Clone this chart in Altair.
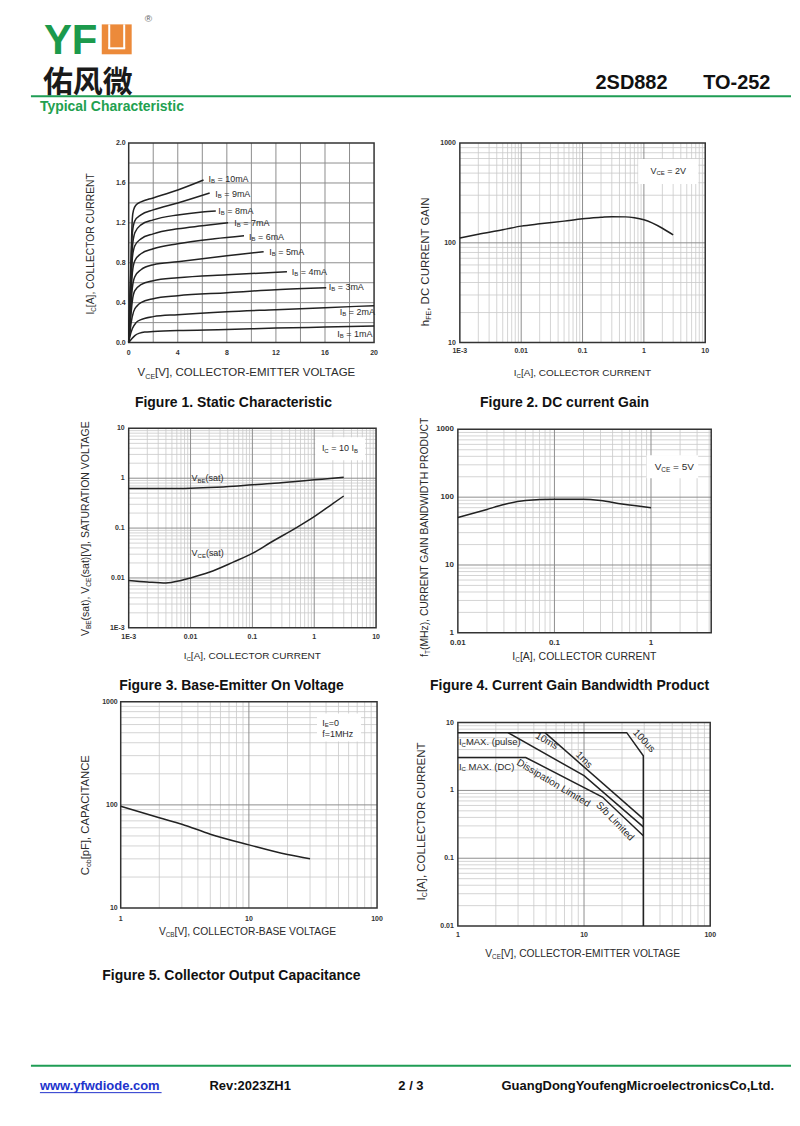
import altair as alt
import pandas as pd

FONT = "Liberation Sans"
INK = "#2a2a2a"
GREEN = "#1f9d55"
ORANGE = "#ec8a3a"

# ---------------- data ----------------
# Figure 1: static characteristic (VCE [V] -> IC [A]) per base current
f1_x_1 = [0, 0.2, 0.5, 0.9, 1.3, 2, 4, 8, 12, 16, 20]
f1_y_1 = [0, 0.03, 0.07, 0.095, 0.105, 0.11, 0.12, 0.13, 0.145, 0.155, 0.165]
f1_x_2 = [0, 0.1, 0.3, 0.6, 1, 2, 4, 8, 12, 16, 20]
f1_y_2 = [0, 0.06, 0.14, 0.2, 0.23, 0.26, 0.28, 0.31, 0.33, 0.35, 0.37]
f1_x_3 = [0, 0.1, 0.2, 0.4, 0.7, 1, 2, 4, 8, 12, 16.1]
f1_y_3 = [0, 0.1, 0.2, 0.31, 0.37, 0.40, 0.44, 0.47, 0.5, 0.53, 0.55]
f1_x_4 = [0, 0.1, 0.2, 0.3, 0.5, 1, 2, 4, 8, 12.9]
f1_y_4 = [0, 0.15, 0.3, 0.42, 0.52, 0.58, 0.62, 0.65, 0.68, 0.71]
f1_x_5 = [0, 0.1, 0.2, 0.3, 0.5, 1, 2, 4, 8, 11]
f1_y_5 = [0, 0.2, 0.4, 0.55, 0.66, 0.73, 0.78, 0.81, 0.87, 0.91]
f1_x_6 = [0, 0.1, 0.2, 0.3, 0.5, 1, 2, 4, 7, 9.4]
f1_y_6 = [0, 0.25, 0.5, 0.7, 0.82, 0.89, 0.94, 0.99, 1.04, 1.07]
f1_x_7 = [0, 0.1, 0.2, 0.3, 0.5, 1, 2, 4, 6, 8.1]
f1_y_7 = [0, 0.3, 0.6, 0.85, 0.97, 1.04, 1.09, 1.14, 1.17, 1.2]
f1_x_8 = [0, 0.1, 0.2, 0.3, 0.5, 1, 2, 4, 6, 7.1]
f1_y_8 = [0, 0.35, 0.7, 0.95, 1.1, 1.18, 1.23, 1.28, 1.31, 1.32]
f1_x_9 = [0, 0.1, 0.2, 0.3, 0.5, 1, 2, 4, 6.6]
f1_y_9 = [0, 0.4, 0.8, 1.1, 1.22, 1.28, 1.33, 1.4, 1.5]
f1_x_10 = [0, 0.1, 0.2, 0.3, 0.4, 0.6, 1, 2, 4, 6.1]
f1_y_10 = [0, 0.45, 0.9, 1.25, 1.33, 1.38, 1.41, 1.45, 1.53, 1.63]
f1_curve_names = ["1mA", "2mA", "3mA", "4mA", "5mA", "6mA", "7mA", "8mA", "9mA", "10mA"]
f1_label_x = [17.0, 17.2, 16.3, 13.3, 11.45, 9.8, 8.6, 7.3, 7.05, 6.5]
f1_label_y = [0.09, 0.31, 0.56, 0.71, 0.91, 1.06, 1.2, 1.32, 1.49, 1.64]
f1_xticks = [0, 4, 8, 12, 16, 20]
f1_xlabels = ["0", "4", "8", "12", "16", "20"]
f1_yticks = [0, 0.4, 0.8, 1.2, 1.6, 2.0]
f1_ylabels = ["0.0", "0.4", "0.8", "1.2", "1.6", "2.0"]
f1_xgrid = [2, 4, 6, 8, 10, 12, 14, 16, 18]
f1_ygrid = [0.2, 0.4, 0.6, 0.8, 1.0, 1.2, 1.4, 1.6, 1.8]

# Figure 2: DC current gain
f2_ic = [0.001, 0.002, 0.005, 0.01, 0.02, 0.05, 0.1, 0.2, 0.3, 0.5, 0.7, 1, 2, 3]
f2_hfe = [112, 122, 135, 147, 155, 165, 174, 180, 183, 182, 178, 170, 140, 120]
f2_xticks = [0.001, 0.01, 0.1, 1, 10]
f2_xlabels = ["1E-3", "0.01", "0.1", "1", "10"]
f2_yticks = [10, 100, 1000]
f2_ylabels = ["10", "100", "1000"]

# Figure 3: saturation voltages
f3_ic_be = [0.001, 0.002, 0.005, 0.01, 0.02, 0.05, 0.1, 0.2, 0.5, 1, 2, 3]
f3_vbe = [0.62, 0.62, 0.62, 0.63, 0.65, 0.69, 0.74, 0.78, 0.86, 0.93, 1.0, 1.05]
f3_ic_ce = [0.001, 0.002, 0.004, 0.007, 0.01, 0.02, 0.05, 0.1, 0.2, 0.5, 1, 2, 3]
f3_vce = [0.0089, 0.0083, 0.0079, 0.0089, 0.0100, 0.013, 0.021, 0.031, 0.052, 0.10, 0.17, 0.31, 0.44]
f3_xticks = [0.001, 0.01, 0.1, 1, 10]
f3_xlabels = ["1E-3", "0.01", "0.1", "1", "10"]
f3_yticks = [0.001, 0.01, 0.1, 1, 10]
f3_ylabels = ["1E-3", "0.01", "0.1", "1", "10"]

# Figure 4: gain bandwidth product
f4_ic = [0.01, 0.02, 0.03, 0.05, 0.1, 0.2, 0.3, 0.5, 1]
f4_ft = [50, 66, 78, 89, 93, 93, 89, 79, 70]
f4_xticks = [0.01, 0.1, 1]
f4_xlabels = ["0.01", "0.1", "1"]
f4_yticks = [1, 10, 100, 1000]
f4_ylabels = ["1", "10", "100", "1000"]

# Figure 5: output capacitance
f5_vcb = [1, 2, 3, 5, 10, 20, 30]
f5_cob = [97, 75, 65, 52, 41, 33, 30]
f5_xticks = [1, 10, 100]
f5_xlabels = ["1", "10", "100"]
f5_yticks = [10, 100, 1000]
f5_ylabels = ["10", "100", "1000"]

# Figure 6: safe operating area
f6_x_100us = [1, 21.8, 29.5, 29.5]
f6_y_100us = [7.1, 7.1, 3.24, 0.01]
f6_x_1ms = [4.9, 29.5]
f6_y_1ms = [7.1, 0.38]
f6_x_10ms = [2.5, 10, 29.5]
f6_y_10ms = [7.1, 1.65, 0.29]
f6_x_dc = [1, 3.45, 14, 29.5]
f6_y_dc = [3.06, 3.06, 0.8, 0.215]
f6_rot_text = ["10ms", "1ms", "100us", "Dissipation Limited", "S/b Limited"]
f6_rot_x = [5.06, 10.0, 29.9, 5.72, 17.6]
f6_rot_y = [5.37, 2.82, 5.37, 1.28, 0.35]
f6_rot_ang = [30, 45, 47, 31, 46]
f6_xticks = [1, 10, 100]
f6_xlabels = ["1", "10", "100"]
f6_yticks = [0.01, 0.1, 1, 10]
f6_ylabels = ["0.01", "0.1", "1", "10"]

GRID_MULT = [2, 3, 4, 5, 6, 7, 8, 9]

# ---------------- helpers ----------------
AW = {' ': 278, '!': 278, '(': 333, ')': 333, ',': 278, '-': 333, '.': 278,
      '/': 278, ':': 278, '=': 584, '[': 278, ']': 278}
for _c in '0123456789':
    AW[_c] = 556
AW.update(dict(zip('ABCDEFGHIJKLMNOPQRSTUVWXYZ',
                   [667, 667, 722, 722, 667, 611, 778, 722, 278, 500, 667, 556, 833,
                    722, 778, 667, 778, 722, 667, 611, 722, 667, 944, 667, 667, 611])))
AW.update(dict(zip('abcdefghijklmnopqrstuvwxyz',
                   [556, 556, 500, 556, 556, 278, 556, 556, 222, 222, 500, 222, 833,
                    556, 556, 556, 556, 333, 500, 278, 556, 500, 722, 500, 500, 500])))


def tw(s, size):
    return sum(AW.get(c, 556) for c in s) * size / 1000.0


one = pd.DataFrame({"k": [0]})


def scl(t, dom, rng):
    if t == "log":
        return alt.Scale(type="log", domain=dom, range=rng, nice=False)
    return alt.Scale(type="linear", domain=dom, range=rng, nice=False, zero=False)


def ex(p, f="x"):
    return alt.X(f, type="quantitative", scale=scl(p["xt"], p["xd"], p["xr"]), axis=None)


def ey(p, f="y"):
    return alt.Y(f, type="quantitative", scale=scl(p["yt"], p["yd"], p["yr"]), axis=None)


def split_lead(t, s):
    stripped = t.lstrip(" ")
    return stripped, tw(" " * (len(t) - len(stripped)), s)


def rich_px(pieces, px, py, angle=0, color=INK, anchor="center"):
    total = sum(tw(t, s) for t, s, _ in pieces)
    off = -total / 2 if anchor == "center" else 0.0
    out = []
    for t, s, dy in pieces:
        body, lead = split_lead(t, s)
        kw = dict(text=body, font=FONT, fontSize=s, color=color, align="left",
                  baseline="middle", dx=round(off + lead, 2), dy=dy)
        if angle:
            kw["angle"] = angle
        out.append(alt.Chart(one).mark_text(**kw).encode(x=alt.value(px), y=alt.value(py)))
        off += tw(t, s)
    return out


def rich_data(pieces, df, p, color=INK, anchor="left"):
    total = sum(tw(t, s) for t, s, _ in pieces if not t.startswith("@"))
    off = -total / 2 if anchor == "center" else 0.0
    out = []
    for t, s, dy in pieces:
        if t.startswith("@"):
            kw = dict(font=FONT, fontSize=s, color=color, align="left",
                      baseline="middle", dx=round(off + tw(" ", s), 2), dy=dy)
            ch = alt.Chart(df).mark_text(**kw).encode(x=ex(p), y=ey(p), text=alt.Text(t[1:] + ":N"))
        else:
            body, lead = split_lead(t, s)
            kw = dict(text=body, font=FONT, fontSize=s, color=color, align="left",
                      baseline="middle", dx=round(off + lead, 2), dy=dy)
            ch = alt.Chart(df).mark_text(**kw).encode(x=ex(p), y=ey(p))
            off += tw(t, s)
        out.append(ch)
    return out


def log_grid(dom, decades):
    lo, hi = dom
    major = [d for d in decades if lo < d < hi]
    minor = [d * m for d in decades for m in GRID_MULT if lo < d * m < hi]
    return major, minor


def base_panel(p, xticks, xlabels, yticks, ylabels, xmaj, xmin_, ymaj, ymin_,
               tsize=7, xdy=9, ydx=-4):
    x0, x1 = p["xd"]
    y0, y1 = p["yd"]
    layers = []

    def vlines(vals, color, w):
        df = pd.DataFrame({"x": vals, "y0": [y0] * len(vals), "y1": [y1] * len(vals)})
        return alt.Chart(df).mark_rule(color=color, strokeWidth=w).encode(
            x=ex(p), y=ey(p, "y0"), y2=alt.Y2("y1"))

    def hlines(vals, color, w):
        df = pd.DataFrame({"y": vals, "x0": [x0] * len(vals), "x1": [x1] * len(vals)})
        return alt.Chart(df).mark_rule(color=color, strokeWidth=w).encode(
            y=ey(p), x=ex(p, "x0"), x2=alt.X2("x1"))

    if xmin_:
        layers.append(vlines(xmin_, "#c9c9c9", 0.8))
    if ymin_:
        layers.append(hlines(ymin_, "#c9c9c9", 0.8))
    if xmaj:
        layers.append(vlines(xmaj, "#8e8e8e", 1))
    if ymaj:
        layers.append(hlines(ymaj, "#8e8e8e", 1))
    frame = pd.DataFrame({"x0": [x0], "x1": [x1], "y0": [y0], "y1": [y1]})
    layers.append(alt.Chart(frame).mark_rect(fill="white", fillOpacity=0, stroke="#333333",
                                             strokeWidth=1.5).encode(
        x=ex(p, "x0"), x2=alt.X2("x1"), y=ey(p, "y0"), y2=alt.Y2("y1")))
    xl = pd.DataFrame({"x": xticks, "lab": xlabels, "y": [y0] * len(xticks)})
    layers.append(alt.Chart(xl).mark_text(font=FONT, fontSize=tsize, fontWeight="bold",
                                          color="#333333", align="center", baseline="middle",
                                          dy=xdy).encode(x=ex(p), y=ey(p), text="lab:N"))
    yl = pd.DataFrame({"y": yticks, "lab": ylabels, "x": [x0] * len(yticks)})
    layers.append(alt.Chart(yl).mark_text(font=FONT, fontSize=tsize, fontWeight="bold",
                                          color="#333333", align="right", baseline="middle",
                                          dx=ydx).encode(x=ex(p), y=ey(p), text="lab:N"))
    return layers


def box(p, xa, xb, ya, yb):
    df = pd.DataFrame({"x0": [xa], "x1": [xb], "y0": [ya], "y1": [yb]})
    return alt.Chart(df).mark_rect(color="white").encode(
        x=ex(p, "x0"), x2=alt.X2("x1"), y=ey(p, "y0"), y2=alt.Y2("y1"))


def curve(p, df, interp="monotone", w=1.5):
    return alt.Chart(df).mark_line(color="#222222", strokeWidth=w, interpolate=interp).encode(
        x=ex(p), y=ey(p), detail="s:N", order="i:Q")


def series_df(pairs):
    rows = []
    for name, xs, ys in pairs:
        for i, (a, b) in enumerate(zip(xs, ys)):
            rows.append({"s": name, "i": i, "x": a, "y": b})
    return pd.DataFrame(rows)


# panel geometry (chart pixel coordinates)
P1 = dict(xt="linear", xd=[0, 20], yt="linear", yd=[0, 2], xr=[121, 367], yr=[334, 134])
P2 = dict(xt="log", xd=[0.001, 10], yt="log", yd=[10, 1000], xr=[453, 699], yr=[334, 134])
P3 = dict(xt="log", xd=[0.001, 10], yt="log", yd=[0.001, 10], xr=[121, 369], yr=[620, 420])
P4 = dict(xt="log", xd=[0.01, 4.2], yt="log", yd=[1, 1000], xr=[451, 705], yr=[625, 421])
P5 = dict(xt="log", xd=[1, 100], yt="log", yd=[10, 1000], xr=[113, 370], yr=[901, 694])
P6 = dict(xt="log", xd=[1, 100], yt="log", yd=[0.01, 10], xr=[451, 704], yr=[919, 715])

DEC = [0.001, 0.01, 0.1, 1, 10, 100, 1000]


def sub_title(a, b, c, size=10):
    return [(a, size, 0), (b, size * 0.62, size * 0.3), (c, size, 0)]


# ---------------- Figure 1 ----------------
f1_df = series_df([
    ("1mA", f1_x_1, f1_y_1), ("2mA", f1_x_2, f1_y_2), ("3mA", f1_x_3, f1_y_3),
    ("4mA", f1_x_4, f1_y_4), ("5mA", f1_x_5, f1_y_5), ("6mA", f1_x_6, f1_y_6),
    ("7mA", f1_x_7, f1_y_7), ("8mA", f1_x_8, f1_y_8), ("9mA", f1_x_9, f1_y_9),
    ("10mA", f1_x_10, f1_y_10)])
f1_lab = pd.DataFrame({"x": f1_label_x, "y": f1_label_y,
                       "txt": ["= " + n for n in f1_curve_names]})
fig1 = base_panel(P1, f1_xticks, f1_xlabels, f1_yticks, f1_ylabels,
                  f1_xgrid, [], f1_ygrid, [], xdy=10, ydx=-3)
fig1 += [curve(P1, f1_df)]
fig1 += rich_data([("I", 9, 0), ("B", 6, 2.5), ("@txt", 9, 0)], f1_lab, P1)
fig1 += rich_px(sub_title("V", "CE", "[V], COLLECTOR-EMITTER VOLTAGE", 11.5), 240, 365)
fig1 += rich_px(sub_title("I", "C", "[A], COLLECTOR CURRENT", 10.3), 83, 235, angle=270)

# ---------------- Figure 2 ----------------
xm, xn = log_grid(P2["xd"], DEC)
ym, yn = log_grid(P2["yd"], DEC)
f2_df = series_df([("hfe", f2_ic, f2_hfe)])
fig2 = base_panel(P2, f2_xticks, f2_xlabels, f2_yticks, f2_ylabels, xm, xn, ym, yn, xdy=8)
fig2 += [box(P2, 0.81, 7.7, 389, 692), curve(P2, f2_df)]
fig2 += rich_data([("V", 9, 0), ("CE", 6, 2.5), (" = 2V", 9, 0)],
                  pd.DataFrame({"x": [2.5], "y": [525]}), P2, anchor="center")
fig2 += rich_px(sub_title("I", "C", "[A], COLLECTOR CURRENT", 10), 576, 365)
fig2 += rich_px(sub_title("h", "FE", ", DC CURRENT GAIN", 11.5), 419, 253, angle=270)

# ---------------- Figure 3 ----------------
xm, xn = log_grid(P3["xd"], DEC)
ym, yn = log_grid(P3["yd"], DEC)
f3_df = series_df([("vbe", f3_ic_be, f3_vbe), ("vce", f3_ic_ce, f3_vce)])
fig3 = base_panel(P3, f3_xticks, f3_xlabels, f3_yticks, f3_ylabels, xm, xn, ym, yn)
fig3 += [box(P3, 1.04, 6.65, 2.29, 6.6), curve(P3, f3_df)]
fig3 += rich_data([("I", 9, 0), ("C", 6, 2.5), (" = 10 I", 9, 0), ("B", 6, 2.5)],
                  pd.DataFrame({"x": [2.6], "y": [4.0]}), P3, anchor="center")
fig3 += rich_data([("V", 9, 0), ("BE", 6, 2.5), ("(sat)", 9, 0)],
                  pd.DataFrame({"x": [0.0104], "y": [1.0]}), P3)
fig3 += rich_data([("V", 9, 0), ("CE", 6, 2.5), ("(sat)", 9, 0)],
                  pd.DataFrame({"x": [0.0104], "y": [0.0316]}), P3)
fig3 += rich_px(sub_title("I", "C", "[A], COLLECTOR CURRENT", 10), 245, 648)
fig3 += rich_px([("V", 10.5, 0), ("BE", 6.5, 3), ("(sat), V", 10.5, 0), ("CE", 6.5, 3),
                 ("(sat)[V], SATURATION VOLTAGE", 10.5, 0)], 78, 519, angle=270)

# ---------------- Figure 4 ----------------
xm, xn = log_grid(P4["xd"], DEC)
ym, yn = log_grid(P4["yd"], DEC)
f4_df = series_df([("ft", f4_ic, f4_ft)])
fig4 = base_panel(P4, f4_xticks, f4_xlabels, f4_yticks, f4_ylabels, xm, xn, ym, yn,
                  tsize=8, xdy=10)
fig4 += [box(P4, 0.9, 3.08, 190, 415), curve(P4, f4_df)]
fig4 += rich_data([("V", 10, 0), ("CE", 6.5, 3), (" = 5V", 10, 0)],
                  pd.DataFrame({"x": [1.74], "y": [277]}), P4, anchor="center")
fig4 += rich_px(sub_title("I", "C", "[A], COLLECTOR CURRENT", 10.5), 578, 649)
fig4 += rich_px(sub_title("f", "T", "(MHz), CURRENT GAIN BANDWIDTH PRODUCT", 10.4), 418, 529, angle=270)

# ---------------- Figure 5 ----------------
xm, xn = log_grid(P5["xd"], DEC)
ym, yn = log_grid(P5["yd"], DEC)
f5_df = series_df([("cob", f5_vcb, f5_cob)])
fig5 = base_panel(P5, f5_xticks, f5_xlabels, f5_yticks, f5_ylabels, xm, xn, ym, yn,
                  xdy=11, ydx=-3)
fig5 += [box(P5, 34, 75, 411, 766), curve(P5, f5_df)]
fig5 += rich_data([("I", 9, 0), ("E", 6, 2.5), ("=0", 9, 0)],
                  pd.DataFrame({"x": [37.3], "y": [627]}), P5)
fig5 += rich_data([("f=1MHz", 9, 0)], pd.DataFrame({"x": [37.3], "y": [490]}), P5)
fig5 += rich_px(sub_title("V", "CB", "[V], COLLECTOR-BASE VOLTAGE", 10.3), 241, 925)
fig5 += rich_px(sub_title("C", "ob", "[pF], CAPACITANCE", 11.3), 78, 807, angle=270)

# ---------------- Figure 6 ----------------
xm, xn = log_grid(P6["xd"], DEC)
ym, yn = log_grid(P6["yd"], DEC)
f6_df = series_df([("100us", f6_x_100us, f6_y_100us), ("1ms", f6_x_1ms, f6_y_1ms),
                   ("10ms", f6_x_10ms, f6_y_10ms), ("dc", f6_x_dc, f6_y_dc)])
f6_rot = pd.DataFrame({"x": f6_rot_x, "y": f6_rot_y, "txt": f6_rot_text, "ang": f6_rot_ang})
fig6 = base_panel(P6, f6_xticks, f6_xlabels, f6_yticks, f6_ylabels, xm, xn, ym, yn)
fig6 += [curve(P6, f6_df, interp="linear")]
fig6 += [alt.Chart(f6_rot).mark_text(font=FONT, fontSize=10, color=INK, align="center",
                                     baseline="middle").encode(
    x=ex(P6), y=ey(P6), text="txt:N", angle=alt.Angle("ang:Q", scale=None))]
fig6 += rich_data([("I", 9.5, 0), ("C", 6, 2.5), ("MAX. (pulse)", 9.5, 0)],
                  pd.DataFrame({"x": [1.02], "y": [5.1]}), P6)
fig6 += rich_data([("I", 9.5, 0), ("C", 6, 2.5), (" MAX. (DC)", 9.5, 0)],
                  pd.DataFrame({"x": [1.02], "y": [2.25]}), P6)
fig6 += rich_px(sub_title("V", "CE", "[V], COLLECTOR-EMITTER VOLTAGE", 10.3), 577, 947)
fig6 += rich_px(sub_title("I", "C", "[A], COLLECTOR CURRENT", 11.5), 415, 814, angle=270)


# ---------------- page header / footer ----------------
def txt(s, x, y, size, color="#111111", weight="bold", align="left", font=FONT, baseline="alphabetic"):
    return alt.Chart(one).mark_text(text=s, font=font, fontSize=size, fontWeight=weight,
                                    color=color, align=align, baseline=baseline).encode(
        x=alt.value(x), y=alt.value(y))


def hrule(x0, x1, y, color, w):
    return alt.Chart(one).mark_rule(color=color, strokeWidth=w).encode(
        x=alt.value(x0), x2=alt.value(x1), y=alt.value(y))


def vrule(x, y0, y1, color, w):
    return alt.Chart(one).mark_rule(color=color, strokeWidth=w).encode(
        x=alt.value(x), y=alt.value(y0), y2=alt.value(y1))


page = [
    txt("YF", 36, 45, 42, color="#1c9a4c"),
    alt.Chart(one).mark_rect(color=ORANGE).encode(
        x=alt.value(94), x2=alt.value(124), y=alt.value(15), y2=alt.value(45)),
    vrule(101.5, 15, 39, "white", 2), vrule(116.5, 15, 39, "white", 2),
    hrule(100.5, 117.5, 39, "white", 2),
    txt("®", 137, 13, 10, color="#666666", weight="normal"),
    txt("佑风微", 35, 82.5, 30, color="#1a1a1a", font="Liberation Sans, Noto Sans CJK SC"),
    txt("2SD882", 589, 80, 20),
    txt("TO-252", 697, 80, 20),
    hrule(23, 785, 87, GREEN, 2),
    txt("Typical Characteristic", 32, 102, 14, color="#22a04f"),
    txt("Figure 1. Static Characteristic", 226, 399, 14, align="center"),
    txt("Figure 2. DC current Gain", 558, 399, 14, align="center"),
    txt("Figure 3. Base-Emitter On Voltage", 224, 682, 14, align="center"),
    txt("Figure 4. Current Gain Bandwidth Product", 563, 682, 14, align="center"),
    txt("Figure 5. Collector Output Capacitance", 224, 973, 14, align="center"),
    hrule(23, 785, 1059, GREEN, 2),
    txt("www.yfwdiode.com", 32, 1083, 13, color="#2233cc"),
    hrule(32, 154, 1086, "#2233cc", 1),
    txt("Rev:2023ZH1", 202, 1083, 13),
    txt("2 / 3", 404, 1083, 13, align="center"),
    txt("GuangDongYoufengMicroelectronicsCo,Ltd.", 768, 1083, 13, align="right"),
]

chart = alt.layer(
    alt.layer(*page),
    alt.layer(*fig1), alt.layer(*fig2), alt.layer(*fig3),
    alt.layer(*fig4), alt.layer(*fig5), alt.layer(*fig6),
).resolve_scale(x="independent", y="independent").properties(
    width=786, height=1110, autosize=alt.AutoSizeParams(type="none"), padding=0,
    background="white"
).configure_view(strokeWidth=0)

chart.save("out.html", embed_options={"renderer": "svg", "actions": False})
